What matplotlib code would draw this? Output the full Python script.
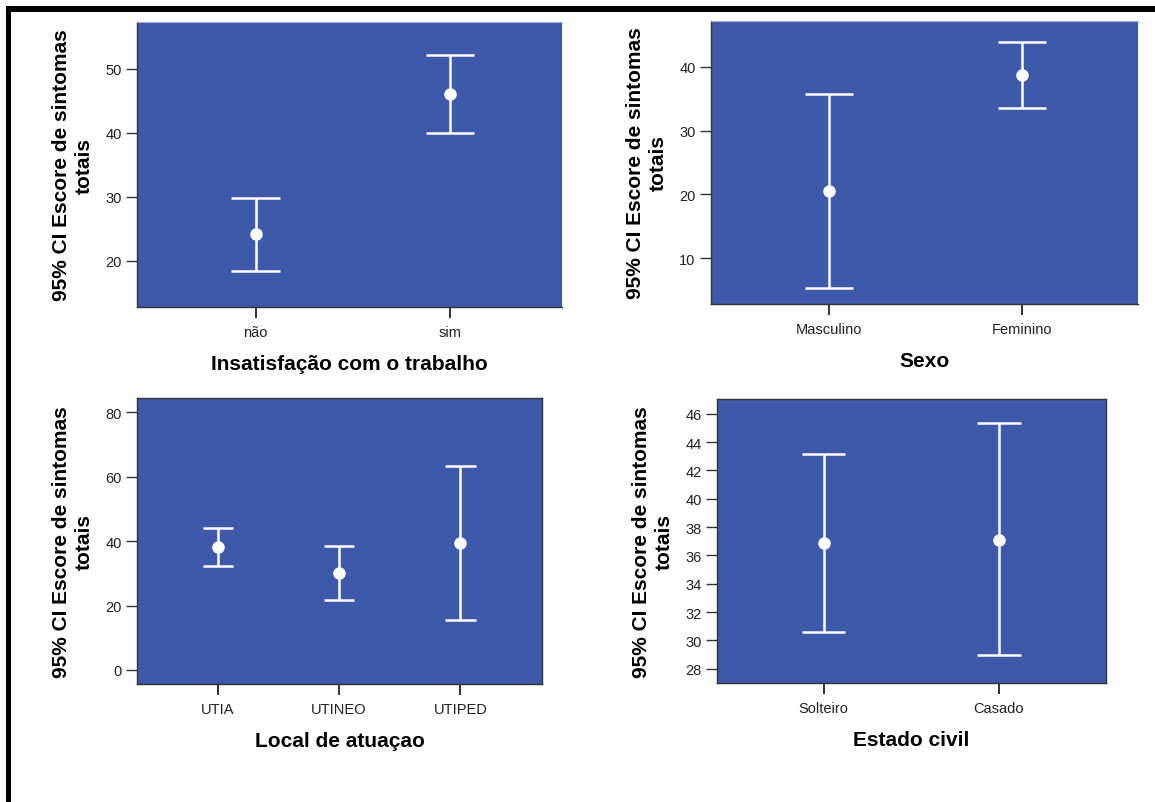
import matplotlib
matplotlib.use("Agg")
import matplotlib.pyplot as plt
from matplotlib.patches import Rectangle

# Mean and 95% CI of the total symptom score, by grouping variable
insat_cats = ["não", "sim"]
insat_mean = [24.2, 46.1]
insat_lo = [18.4, 40.0]
insat_hi = [29.8, 52.2]

sexo_cats = ["Masculino", "Feminino"]
sexo_mean = [20.6, 38.7]
sexo_lo = [5.4, 33.6]
sexo_hi = [35.8, 43.8]

local_cats = ["UTIA", "UTINEO", "UTIPED"]
local_mean = [38.1, 30.1, 39.4]
local_lo = [32.3, 21.8, 15.6]
local_hi = [44.1, 38.5, 63.4]

civil_cats = ["Solteiro", "Casado"]
civil_mean = [36.86, 37.12]
civil_lo = [30.6, 28.97]
civil_hi = [43.16, 45.33]

W, H = 1155, 803
BLUE = "#3e58aa"
YLABEL = "95% CI Escore de sintomas\ntotais"

plt.rcParams.update({
    "font.family": ["Liberation Sans", "DejaVu Sans"],
    "font.size": 10.5,
})

fig = plt.figure(figsize=(W / 100, H / 100), dpi=100)
fig.patch.set_facecolor("white")


def px_axes(x0, y0, x1, y1):
    return fig.add_axes([x0 / W, 1 - y1 / H, (x1 - x0) / W, (y1 - y0) / H])


def ci_panel(ax, cats, mean, lo, hi, xlim, ylim, yticks, xlabel, open_top):
    xs = list(range(len(cats)))
    ax.set_facecolor(BLUE)
    ax.vlines(xs, lo, hi, color="white", lw=1.8, zorder=3)
    ax.hlines(lo, [x - 0.125 for x in xs], [x + 0.125 for x in xs],
              color="white", lw=1.8, zorder=3)
    ax.hlines(hi, [x - 0.125 for x in xs], [x + 0.125 for x in xs],
              color="white", lw=1.8, zorder=3)
    ax.plot(xs, mean, "o", color="white", ms=8, zorder=4)

    ax.set_xlim(*xlim)
    ax.set_ylim(*ylim)
    ax.set_xticks(xs)
    ax.set_xticklabels(cats)
    ax.set_yticks(yticks)
    ax.tick_params(axis="x", length=8, width=1.4, pad=5, color="#333",
                   labelcolor="#222", labelsize=10.5)
    ax.tick_params(axis="y", length=8, width=1.0, pad=3, color="#333",
                   labelcolor="#222", labelsize=10.5)

    for side in ("left", "bottom"):
        ax.spines[side].set_color("#333")
        ax.spines[side].set_linewidth(1.0)
    if open_top:
        ax.spines["top"].set_color("#a3acd6")
        ax.spines["right"].set_visible(False)
    else:
        for side in ("top", "right"):
            ax.spines[side].set_color("#333")
            ax.spines[side].set_linewidth(1.0)

    bb = ax.get_position()
    wpx, hpx = bb.width * W, bb.height * H
    ax.set_xlabel(xlabel, fontsize=15, fontweight="bold", color="black")
    ax.xaxis.set_label_coords(0.5, -47 / hpx)
    ax.set_ylabel(YLABEL, fontsize=15, fontweight="bold", color="black",
                  linespacing=1.25)
    ax.yaxis.set_label_coords(-43 / wpx, 0.5)


ax1 = px_axes(137, 23, 562, 308)
ci_panel(ax1, insat_cats, insat_mean, insat_lo, insat_hi,
         (-0.61, 1.576), (12.8, 57.3), [20, 30, 40, 50],
         "Insatisfação com o trabalho", True)

ax2 = px_axes(711, 22, 1138, 305)
ci_panel(ax2, sexo_cats, sexo_mean, sexo_lo, sexo_hi,
         (-0.611, 1.60), (2.85, 47.15), [10, 20, 30, 40],
         "Sexo", True)

ax3 = px_axes(137, 399, 542, 685)
ci_panel(ax3, local_cats, local_mean, local_lo, local_hi,
         (-0.665, 2.672), (-4.35, 84.4), [0, 20, 40, 60, 80],
         "Local de atuaçao", False)

ax4 = px_axes(717, 400, 1106, 684)
ci_panel(ax4, civil_cats, civil_mean, civil_lo, civil_hi,
         (-0.609, 1.613), (27.0, 47.04), list(range(28, 47, 2)),
         "Estado civil", False)

# black frame along the top and left edges
fig.add_artist(Rectangle((6 / W, 1 - 13 / H), 1 - 6 / W, 6 / H,
                         transform=fig.transFigure, color="black", lw=0))
fig.add_artist(Rectangle((6 / W, 0), 5 / W, 1 - 7 / H,
                         transform=fig.transFigure, color="black", lw=0))

fig.savefig("out.png", dpi=100)
